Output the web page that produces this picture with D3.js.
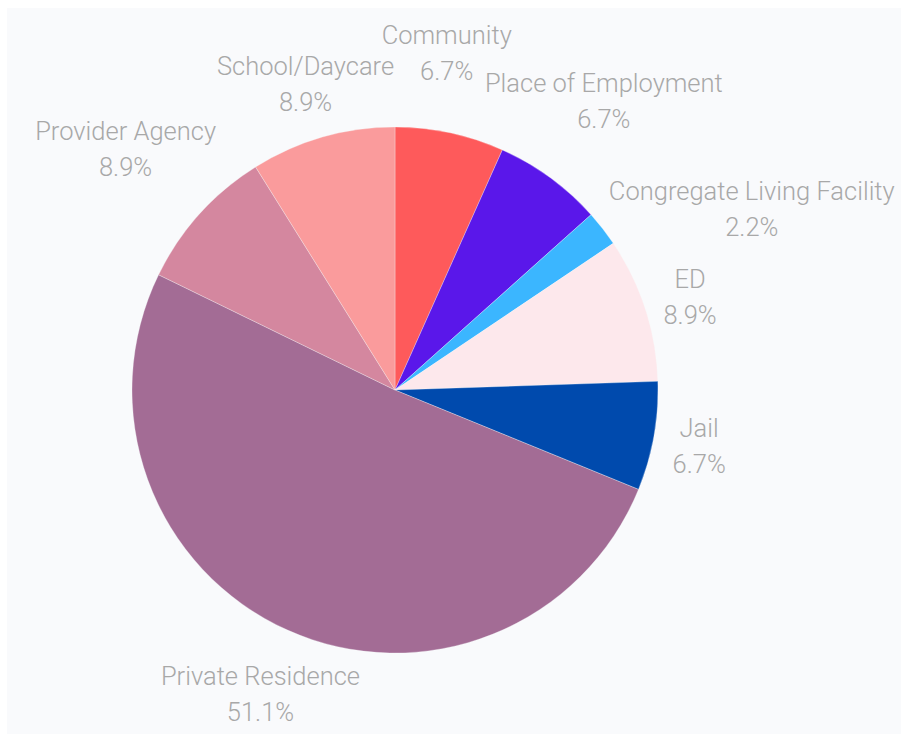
<!DOCTYPE html>
<html>
<head>
<meta charset="utf-8">
<script src="https://cdn.jsdelivr.net/npm/d3@7"></script>
<style>
  html, body { margin: 0; padding: 0; background: #ffffff; }
  svg { display: block; }
</style>
</head>
<body>
<svg id="chart" width="901" height="734"></svg>
<script>
// Share of cases by location (percent)
const categories = [
  "Community",
  "Place of Employment",
  "Congregate Living Facility",
  "ED",
  "Jail",
  "Private Residence",
  "Provider Agency",
  "School/Daycare"
];
const shares = [6.7, 6.7, 2.2, 8.9, 6.7, 51.1, 8.9, 8.9];
const sliceColors = [
  "#fe5a5b", "#5a17ea", "#3bb6ff", "#fde8ec",
  "#004aad", "#a36c95", "#d4879f", "#fa9b9c"
];

// Label placement: shift from a point just outside the slice's mid-angle
const labelNudge = [
  [-13, -43], [26, -48], [112, 0], [0, -7],
  [-1, -8], [-8, 12], [-39, -43], [-4, -17]
];

const W = 901, H = 734;
const cx = 395, cy = 390, radius = 263, labelRadius = 310, lineGap = 36;

const svg = d3.select("#chart");

// panel background
svg.append("rect")
  .attr("x", 7).attr("y", 8)
  .attr("width", W - 7).attr("height", H - 8)
  .attr("fill", "#f9fafc");

const data = categories.map((c, i) => ({ name: c, value: shares[i], color: sliceColors[i], i }));

const pie = d3.pie().value(d => d.value).sort(null);
const arcs = pie(data);
const arc = d3.arc().innerRadius(0).outerRadius(radius);

const g = svg.append("g").attr("transform", `translate(${cx},${cy})`);

g.selectAll("path.slice")
  .data(arcs)
  .join("path")
  .attr("class", "slice")
  .attr("d", arc)
  .attr("fill", d => d.data.color)
  .attr("stroke", "#f9fafc")
  .attr("stroke-width", 0.3);

const labels = g.selectAll("text.label")
  .data(arcs)
  .join("text")
  .attr("class", "label")
  .attr("text-anchor", "middle")
  .attr("font-family", "Roboto, 'Noto Sans', sans-serif")
  .attr("font-weight", 300)
  .attr("font-size", 25.5)
  .attr("fill", "#a8a8a8")
  .attr("transform", d => {
    const a = (d.startAngle + d.endAngle) / 2;
    const n = labelNudge[d.data.i];
    const x = Math.sin(a) * labelRadius + n[0];
    const y = -Math.cos(a) * labelRadius + n[1];
    return `translate(${x},${y})`;
  });

labels.append("tspan")
  .attr("x", 0).attr("y", 0)
  .text(d => d.data.name);

labels.append("tspan")
  .attr("x", 0).attr("y", lineGap)
  .text(d => d.data.value.toFixed(1) + "%");
</script>
</body>
</html>
